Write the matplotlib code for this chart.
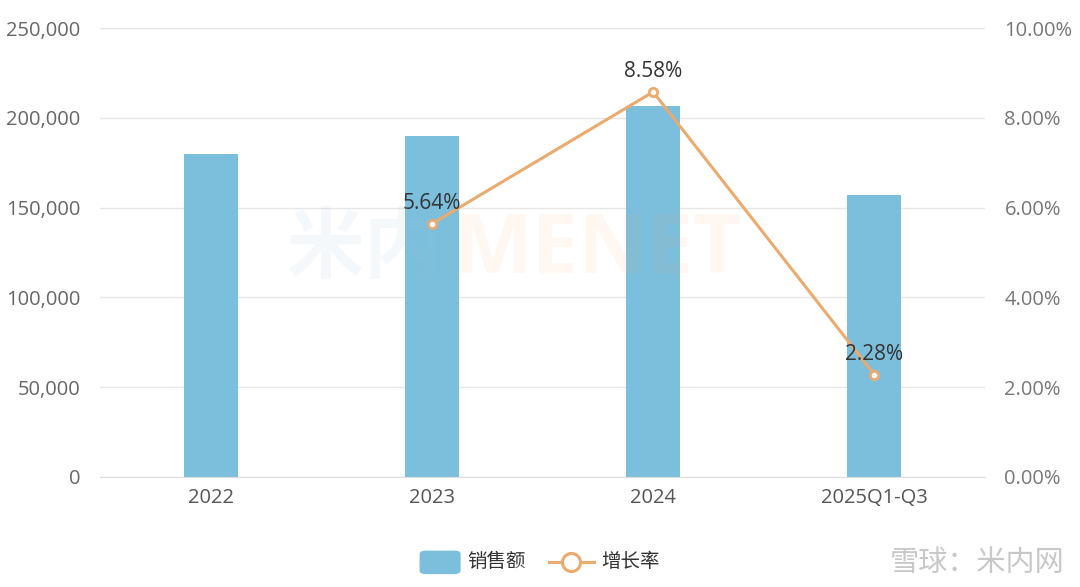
import matplotlib.pyplot as plt
from matplotlib.lines import Line2D
from matplotlib.patches import FancyBboxPatch
from matplotlib.ticker import FuncFormatter

plt.rcParams['font.family'] = ['Open Sans', 'Noto Sans CJK SC', 'DejaVu Sans']

# data
years = ['2022', '2023', '2024', '2025Q1-Q3']
sales = [180000, 190000, 206600, 157000]
growth_years = [1, 2, 3]
growth = [5.64, 8.58, 2.28]

bar_color = '#7BBFDD'
line_color = '#EBAA6E'

fig = plt.figure(figsize=(10.8, 5.87), dpi=100)
ax = fig.add_axes([0.0926, 0.1874, 0.8194, 0.7646])
ax2 = ax.twinx()

x = range(len(years))
ax.bar(x, sales, width=0.245, color=bar_color, zorder=2)
ax.set_xlim(-0.5, 3.5)
ax.set_ylim(0, 250000)
ax.set_yticks(range(0, 250001, 50000))
ax.yaxis.set_major_formatter(FuncFormatter(lambda v, p: f'{int(v):,}'))
ax.grid(axis='y', color='#E6E6E6', linewidth=1, zorder=0)
ax.set_axisbelow(True)
ax.set_xticks(list(x))
ax.set_xticklabels(years)
for s in ax.spines.values():
    s.set_visible(False)
for s in ax2.spines.values():
    s.set_visible(False)
ax.spines['bottom'].set_visible(True)
ax.spines['bottom'].set_color('#DDDDDD')
ax.tick_params(axis='y', length=0, pad=14, labelsize=14.5, labelcolor='#666666')
ax.tick_params(axis='x', length=0, pad=8, labelsize=14.5, labelcolor='#555555')

ax2.plot(growth_years, growth, color=line_color, linewidth=2.2, marker='o',
         markersize=6, markerfacecolor='white', markeredgecolor=line_color,
         markeredgewidth=2, zorder=3)
ax2.set_ylim(0, 10)
ax2.set_yticks(range(0, 11, 2))
ax2.yaxis.set_major_formatter(FuncFormatter(lambda v, p: f'{v:.2f}%'))
ax2.tick_params(axis='y', length=0, pad=14, labelsize=14.5, labelcolor='#777777')
for gx, gy in zip(growth_years, growth):
    ax2.annotate(f'{gy:.2f}%', (gx, gy), xytext=(0, 7), textcoords='offset points',
                 ha='center', va='bottom', fontsize=15, color='#333333')

# watermarks
fig.text(0.265, 0.572, '米内', fontsize=56, fontweight='bold', color='#9EC4DA',
         alpha=0.1, ha='left', va='center')
fig.text(0.42, 0.572, 'MENET', fontsize=60, fontweight='bold', color='#F4A460',
         alpha=0.08, ha='left', va='center')
fig.text(0.986, 0.04, '雪球：米内网', fontsize=21, color='#BBBBBB', alpha=0.8,
         ha='right', va='center')

# legend
patch = FancyBboxPatch((0.3885, 0.022), 0.038, 0.04, boxstyle='round,pad=0,rounding_size=0.006',
                       transform=fig.transFigure, facecolor=bar_color, edgecolor='none')
fig.patches.append(patch)
fig.text(0.433, 0.042, '销售额', fontsize=14, color='#333333', va='center')
fig.lines.append(Line2D([0.508, 0.55], [0.042, 0.042], transform=fig.transFigure,
                        color=line_color, linewidth=2.2))
fig.lines.append(Line2D([0.529], [0.042], transform=fig.transFigure, marker='o',
                        markersize=13, markerfacecolor='white', markeredgecolor=line_color,
                        markeredgewidth=2.2, color=line_color))
fig.text(0.557, 0.042, '增长率', fontsize=14, color='#333333', va='center')

fig.savefig('out.png', dpi=100, facecolor='white')
